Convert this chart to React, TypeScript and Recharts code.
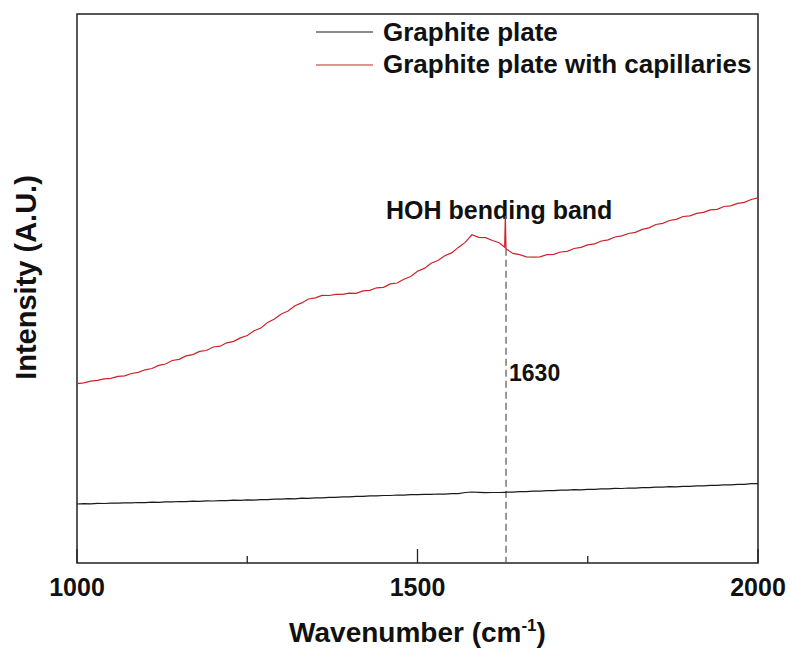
import { LineChart, Line, XAxis, YAxis, ReferenceLine, ReferenceArea, Legend } from 'recharts'

const FONT = '"Liberation Sans", Arial, sans-serif'

// Raman shift (cm-1); 1628-1630 sampled densely for the narrow water peak
const wavenumbers = [
  1000, 1010, 1020, 1030, 1040, 1050, 1060, 1070, 1080, 1090,
  1100, 1110, 1120, 1130, 1140, 1150, 1160, 1170, 1180, 1190,
  1200, 1210, 1220, 1230, 1240, 1250, 1260, 1270, 1280, 1290,
  1300, 1310, 1320, 1330, 1340, 1350, 1360, 1370, 1380, 1390,
  1400, 1410, 1420, 1430, 1440, 1450, 1460, 1470, 1480, 1490,
  1500, 1510, 1520, 1530, 1540, 1550, 1560, 1570, 1580, 1590,
  1600, 1610, 1620, 1628, 1629, 1630, 1640, 1650, 1660, 1670,
  1680, 1690, 1700, 1710, 1720, 1730, 1740, 1750, 1760, 1770,
  1780, 1790, 1800, 1810, 1820, 1830, 1840, 1850, 1860, 1870,
  1880, 1890, 1900, 1910, 1920, 1930, 1940, 1950, 1960, 1970,
  1980, 1990, 2000,
]

const plateIntensity = [
  59.0, 59.3, 59.2, 59.6, 59.5, 59.9, 59.8, 60.2, 60.1, 60.5,
  60.4, 60.8, 60.7, 61.2, 61.1, 61.5, 61.4, 61.8, 61.7, 62.1,
  62.0, 62.4, 62.3, 62.8, 62.6, 63.1, 62.9, 63.4, 63.3, 63.8,
  63.8, 64.3, 64.2, 64.8, 64.7, 65.2, 65.2, 65.7, 65.6, 66.2,
  66.1, 66.6, 66.6, 67.1, 67.1, 67.5, 67.5, 68.0, 67.9, 68.4,
  68.3, 68.7, 68.6, 69.0, 68.9, 69.3, 69.3, 70.5, 71.0, 70.6,
  70.3, 70.5, 70.5, 70.7, 70.6, 70.8, 70.9, 71.3, 71.4, 71.8,
  71.9, 72.3, 72.3, 72.8, 72.8, 73.3, 73.2, 73.7, 73.7, 74.2,
  74.1, 74.6, 74.5, 75.0, 74.9, 75.4, 75.3, 75.9, 75.8, 76.3,
  76.2, 76.7, 76.6, 77.2, 77.1, 77.7, 77.6, 78.2, 78.1, 78.7,
  78.7, 79.3, 79.4,
]

const capillaryIntensity = [
  179.4, 180.1, 181.8, 182.6, 184.2, 184.7, 186.6, 187.1, 189.5, 190.6,
  193.2, 194.5, 197.6, 199.0, 202.5, 203.6, 207.1, 208.4, 211.6, 212.5,
  216.0, 216.8, 220.2, 221.6, 225.1, 227.5, 232.2, 235.0, 240.6, 244.0,
  249.1, 252.0, 257.2, 260.1, 264.0, 265.1, 267.6, 267.5, 268.7, 268.6,
  269.8, 269.6, 272.1, 272.6, 275.2, 275.7, 279.1, 280.0, 283.8, 286.5,
  291.7, 294.6, 299.8, 302.5, 307.2, 310.1, 315.6, 320.6, 328.2, 325.6,
  325.4, 322.5, 320.3, 315.8, 347.0, 314.2, 309.6, 308.4, 306.1, 305.9,
  306.1, 308.4, 308.7, 311.0, 311.6, 314.5, 315.6, 318.1, 319.1, 322.0,
  323.1, 326.0, 327.2, 329.5, 330.6, 333.6, 335.1, 338.5, 339.6, 342.5,
  343.6, 346.5, 347.1, 349.6, 350.6, 353.1, 353.6, 356.5, 357.1, 359.6,
  360.6, 363.5, 365.2,
]

const xTicks = [1000, 1250, 1500, 1750, 2000]
const labelledTicks = [1000, 1500, 2000]
const hohPeak = 1630

const data = wavenumbers.map((w, i) => ({
  wavenumber: w,
  plate: plateIntensity[i],
  capillaries: capillaryIntensity[i],
}))

const peakIntensity = capillaryIntensity[wavenumbers.indexOf(hohPeak)]

// ticks point inward from the bottom frame; only the hundreds get a label
function BottomTick(props: any) {
  const { x, y, payload } = props
  const major = labelledTicks.includes(payload.value)
  return (
    <g>
      <line x1={x} x2={x} y1={y} y2={y - (major ? 14 : 7)} stroke="#222" strokeWidth={1.3} />
      {major && (
        <text x={x} y={y + 33} textAnchor="middle" fontFamily={FONT} fontWeight="bold" fontSize={25} fill="#111">
          {payload.value}
        </text>
      )}
    </g>
  )
}

function LegendBox(props: any) {
  const { payload } = props
  return (
    <svg width={480} height={90}>
      {(payload || []).map((entry: any, i: number) => (
        <g key={entry.value}>
          <line x1={16} x2={73} y1={32 + i * 33} y2={32 + i * 33} stroke={entry.color} strokeWidth={1.2} />
          <text x={83} y={41 + i * 32} fontFamily={FONT} fontWeight="bold" fontSize={26} fill="#111">
            {entry.value}
          </text>
        </g>
      ))}
    </svg>
  )
}

// the frame's label carries the rotated y title, left of the plot box
function FrameLabel(p: any) {
  const vb = p.viewBox
  const cy = vb.y + vb.height / 2 - 11
  return (
    <text x={0} y={0} transform={`translate(${vb.x - 41}, ${cy}) rotate(-90)`} textAnchor="middle" fontFamily={FONT} fontWeight="bold" fontSize={29} fill="#111">
      Intensity (A.U.)
    </text>
  )
}

export default function App() {
  return (
    <div style={{ position: 'absolute', left: 0, top: 0, width: 790, height: 650, background: '#fff' }}>
      <LineChart width={790} height={650} data={data} margin={{ top: 14, right: 32, bottom: 0, left: 77 }}>
        <XAxis
          dataKey="wavenumber"
          type="number"
          domain={[1000, 2000]}
          ticks={xTicks}
          height={87}
          axisLine={false}
          tickLine={false}
          tickSize={0}
          tickMargin={0}
          tick={<BottomTick />}
          label={{
            position: 'insideBottom',
            content: (p: any) => {
              const vb = p.viewBox
              return (
                <text x={vb.x + vb.width / 2} y={642} textAnchor="middle" fontFamily={FONT} fontWeight="bold" fontSize={28} fill="#111">
                  Wavenumber (cm<tspan dy={-11} fontSize={17}>-1</tspan><tspan dy={11}>)</tspan>
                </text>
              )
            },
          }}
        />
        <YAxis type="number" domain={[0, 549]} width={0} axisLine={false} tickLine={false} tick={false} />
        <ReferenceArea x1={1000} x2={2000} y1={0} y2={549} fill="none" stroke="#222" strokeWidth={1.5} ifOverflow="visible" label={FrameLabel} />
        <ReferenceLine
          segment={[{ x: hohPeak, y: peakIntensity }, { x: hohPeak, y: 0 }]}
          stroke="#555"
          strokeWidth={1.2}
          strokeDasharray="7 4"
          label={(p: any) => {
            const vb = p.viewBox
            return (
              <g>
                <text x={vb.x + 3} y={381} fontFamily={FONT} fontWeight="bold" fontSize={23} fill="#111">
                  {hohPeak}
                </text>
                <text x={vb.x - 120} y={219} fontFamily={FONT} fontWeight="bold" fontSize={25} fill="#111">
                  HOH bending band
                </text>
              </g>
            )
          }}
        />
        <Line dataKey="plate" name="Graphite plate" stroke="#1a1a1a" strokeWidth={1.2} dot={false} isAnimationActive={false} />
        <Line dataKey="capillaries" name="Graphite plate with capillaries" stroke="#cc2229" strokeWidth={1.2} dot={false} isAnimationActive={false} />
        <Legend layout="vertical" align="center" verticalAlign="middle" content={<LegendBox />} wrapperStyle={{ left: 300, top: 0, width: 480 }} />
      </LineChart>
    </div>
  )
}
